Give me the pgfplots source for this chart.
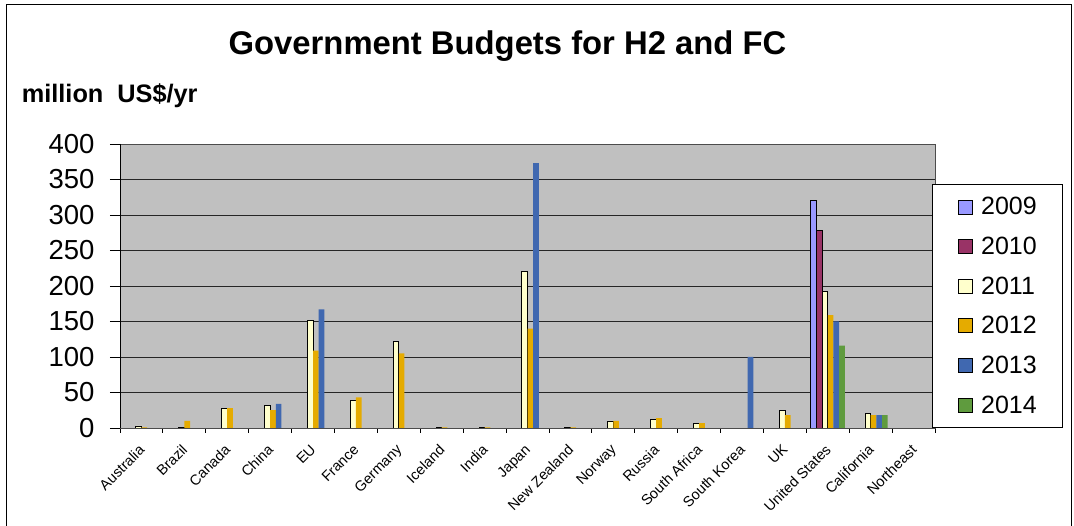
\documentclass[border=0pt]{standalone}
\usepackage{pgfplots}
\pgfplotsset{compat=1.18}
\usepackage{fontspec}
\setmainfont{Liberation Sans}
\definecolor{c09}{HTML}{9999FF}
\definecolor{c10}{HTML}{993366}
\definecolor{c11}{HTML}{FFFFCC}
\definecolor{c12}{HTML}{E5AB00}
\definecolor{c13}{HTML}{4068B0}
\definecolor{c14}{HTML}{5F9B3E}
\definecolor{plotbg}{HTML}{C0C0C0}
\begin{document}
\begin{tikzpicture}[x=1pt,y=1pt]
\useasboundingbox (-120,-98) rectangle (954,428);
\draw[line width=1pt] (-113,-100) -- (-113,423) -- (951,423) -- (951,-100);
\node[anchor=base, inner sep=0pt, font=\fontsize{32.8}{32.8}\selectfont\bfseries] at (387.5,373) {Government Budgets for H2 and FC};
\node[anchor=base west, inner sep=0pt, font=\fontsize{25.3}{25.3}\selectfont\bfseries] at (-98.3,325) {million\hspace{14pt}US\$/yr};
\begin{axis}[
  at={(0,0)}, anchor=south west, scale only axis,
  width=815pt, height=284pt,
  ybar=0pt, bar width=5.67pt,
  xmin=-0.5, xmax=18.5, ymin=0, ymax=400,
  ytick={0,50,...,400},
  xtick={0,...,18},
  xticklabels={Australia,Brazil,Canada,China,EU,France,Germany,Iceland,India,Japan,New Zealand,Norway,Russia,South Africa,South Korea,UK,United States,California,Northeast},
  minor xtick={-0.5,0.5,...,18.5},
  tick pos=left, tick align=outside,
  major tick length=10pt, minor tick length=5pt,
  major x tick style={draw=none},
  every tick/.style={black, line width=0.8pt},
  ymajorgrids, grid style={black!85, line width=0.9pt},
  axis background/.style={fill=plotbg},
  axis line style={draw=gray!60!black, line width=0.8pt},
  /pgf/number format/assume math mode=true,
  yticklabel style={font=\fontsize{27.5}{27.5}\selectfont, xshift=-12pt},
  xticklabel style={font=\fontsize{14.5}{14.5}\selectfont, xshift=-3.5pt, yshift=-4pt, rotate=45, anchor=north east, inner sep=1pt},
  legend image code/.code={\draw[#1] (0pt,-7pt) rectangle (14pt,7pt);},
  legend style={at={(0.9963,0.859)}, anchor=north west, draw=black, fill=white, line width=0.8pt,
    inner xsep=26pt, inner ysep=13pt, row sep=20.7pt, column sep=8pt,
    font=\fontsize{25}{25}\selectfont, nodes={inner sep=0pt}},
  legend cell align=left,
]
\addplot[fill=c09, draw=black, line width=0.7pt] coordinates {(16,320)};
\addplot[fill=c10, draw=black, line width=0.7pt] coordinates {(16,278)};
\addplot[fill=c11, draw=black, line width=0.7pt] coordinates {(0,3) (1,1) (2,27) (3,32) (4,151) (5,39) (6,122) (7,1) (8,1) (9,220) (10,1) (11,10) (12,12) (13,7) (15,25) (16,192) (17,20)};
\addplot[fill=c12, draw=none] coordinates {(0,1) (1,10) (2,28) (3,25) (4,109) (5,43) (6,105) (7,1) (8,1) (9,140) (10,1) (11,10) (12,14) (13,7) (15,18) (16,159) (17,18)};
\addplot[fill=c13, draw=none] coordinates {(3,34) (4,167) (9,373) (14,100) (16,150) (17,18)};
\addplot[fill=c14, draw=none] coordinates {(16,116) (17,18)};
\legend{2009,2010,2011,2012,2013,2014}
\draw[black, line width=0.8pt] (rel axis cs:0,1) -- (rel axis cs:0,0) -- (rel axis cs:1,0);
\end{axis}
\end{tikzpicture}
\end{document}
